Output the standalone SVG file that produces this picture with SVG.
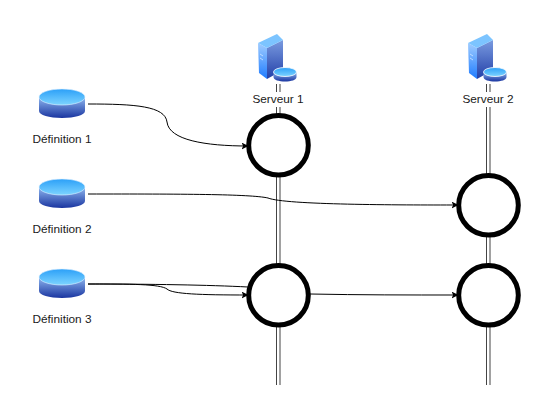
<svg xmlns="http://www.w3.org/2000/svg" xmlns:xlink="http://www.w3.org/1999/xlink" width="553" height="419" viewBox="0 0 553 419">
<style>
text{font-family:"Liberation Sans",Arial,sans-serif;font-size:11.8px;fill:#1a1a1a;text-anchor:middle}
.c{fill:#fff;stroke:#000;stroke-width:5}
.r{stroke:#444;stroke-width:1;fill:none}
.e{fill:none;stroke:#000;stroke-width:1}
</style>
<defs>
<linearGradient id="dbSide" x1="0" y1="0" x2="0" y2="1"><stop offset="0" stop-color="#8FB8F0"/><stop offset="1" stop-color="#1A35A0"/></linearGradient>
<linearGradient id="dbTop" x1="0" y1="0" x2="0" y2="1"><stop offset="0" stop-color="#2CA0F8"/><stop offset="1" stop-color="#7DD4FF"/></linearGradient>
<linearGradient id="srvFront" x1="0" y1="0" x2="0" y2="1"><stop offset="0" stop-color="#A0CCFF"/><stop offset="1" stop-color="#1F7CFF"/></linearGradient>
<linearGradient id="srvSide" x1="0" y1="0" x2="0" y2="1"><stop offset="0" stop-color="#7A9BE0"/><stop offset="1" stop-color="#2340A8"/></linearGradient>
<marker id="arr" markerWidth="8" markerHeight="8" refX="6.500" refY="3.500" orient="auto" markerUnits="userSpaceOnUse"><path d="M0 0L7 3.500L0 7L1.600 3.500Z" fill="#000"/></marker>
<g id="db">
<path d="M-23 -7V7C-23 11 -13 14 0 14S23 11 23 7V-7Z" fill="url(#dbSide)"/>
<ellipse cx="0" cy="-7" rx="23" ry="8" fill="url(#dbTop)" stroke="#dff0ff" stroke-width=".6"/>
</g>
<g id="srv">
<path d="M-12 -5L4 -13V17L-12 26Z" fill="url(#srvSide)"/>
<path d="M-21 -10L-12 -5V26L-20 20Z" fill="url(#srvFront)"/>
<path d="M-21 -10L-2 -19L4 -13L-12 -5Z" fill="#7CC4FF"/>
<path d="M-19 1L-16 3M-19 5L-16 7" stroke="#dff0ff" stroke-width=".7"/>
<path d="M-5.500 19V24C-5.500 27 0 28.500 6 28.500S17.500 27 17.500 24V19Z" fill="url(#dbSide)"/>
<ellipse cx="6" cy="19" rx="11.500" ry="4.500" fill="url(#dbTop)" stroke="#fff" stroke-width=".8"/>
</g>
</defs>
<g id="connectors">
<path class="r" d="M276.500 84V92M280 84V92M276.500 107V385M280 107V385M486.500 84V92M490 84V92M486.500 107V385M490 107V385"/>
<path class="e" marker-end="url(#arr)" d="M88 104C135 104 165 106 167 122C169 140 205 146 248 146"/>
<path class="e" marker-end="url(#arr)" d="M88 194C180 194 250 194 268 198C285 205 400 205 458 205"/>
<path class="e" d="M88 284C150 284 210 285 248 287"/>
<path class="e" marker-end="url(#arr)" d="M88 284C130 284 160 284 167 289C172 294 200 295 248 295"/>
<path class="e" marker-end="url(#arr)" d="M310 294C360 295 410 295 458 295"/>
</g>
<g id="n1"><circle class="c" cx="278.500" cy="145.300" r="29.800"/></g>
<g id="n2"><circle class="c" cx="488.500" cy="205.300" r="29.800"/></g>
<g id="n3"><circle class="c" cx="278.500" cy="295.300" r="29.800"/></g>
<g id="n4"><circle class="c" cx="488.500" cy="295.300" r="29.800"/></g>
<g id="srv1"><use xlink:href="#srv" href="#srv" x="279" y="53"/><text x="278" y="103">Serveur 1</text></g>
<g id="srv2"><use xlink:href="#srv" href="#srv" x="489" y="53"/><text x="488" y="103">Serveur 2</text></g>
<g id="def1"><use xlink:href="#db" href="#db" x="62" y="104"/><text x="62" y="143">Définition 1</text></g>
<g id="def2"><use xlink:href="#db" href="#db" x="62" y="194"/><text x="62" y="233">Définition 2</text></g>
<g id="def3"><use xlink:href="#db" href="#db" x="62" y="284"/><text x="62" y="323">Définition 3</text></g>
</svg>
